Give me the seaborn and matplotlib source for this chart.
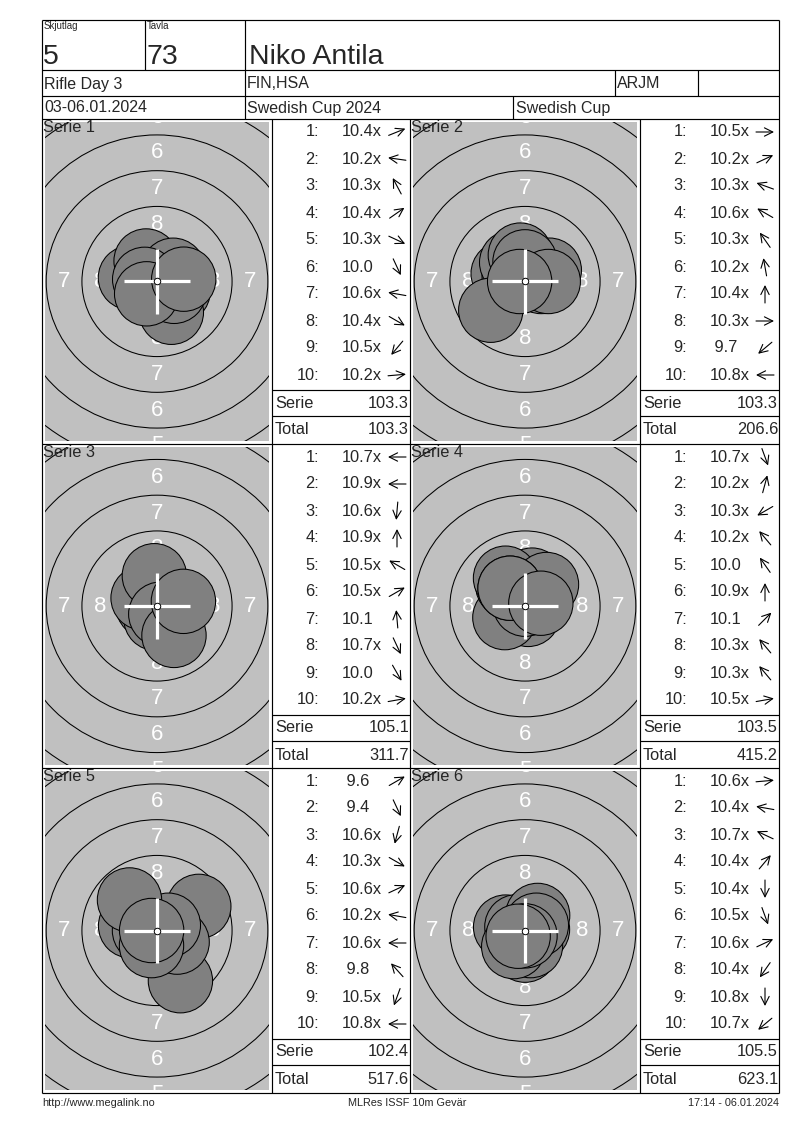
import numpy as np
import pandas as pd
import matplotlib
matplotlib.use("Agg")
import matplotlib.pyplot as plt
from matplotlib.patches import Circle
import seaborn as sns

# ------------------------------------------------------------------ data
relay = "5"
lane = "73"
shooter = "Niko Antila"
event = "Rifle Day 3"
club = "FIN,HSA"
klass = "ARJM"
dates = "03-06.01.2024"
competition = "Swedish Cup 2024"
cup = "Swedish Cup"
footer_left = "http://www.megalink.no"
footer_mid = "MLRes ISSF 10m Gevär"
footer_right = "17:14 - 06.01.2024"

series_names = ["Serie 1", "Serie 2", "Serie 3", "Serie 4", "Serie 5", "Serie 6"]

s1_scores = [10.4, 10.2, 10.3, 10.4, 10.3, 10.0, 10.6, 10.4, 10.5, 10.2]
s2_scores = [10.5, 10.2, 10.3, 10.6, 10.3, 10.2, 10.4, 10.3, 9.7, 10.8]
s3_scores = [10.7, 10.9, 10.6, 10.9, 10.5, 10.5, 10.1, 10.7, 10.0, 10.2]
s4_scores = [10.7, 10.2, 10.3, 10.2, 10.0, 10.9, 10.1, 10.3, 10.3, 10.5]
s5_scores = [9.6, 9.4, 10.6, 10.3, 10.6, 10.2, 10.6, 9.8, 10.5, 10.8]
s6_scores = [10.6, 10.4, 10.7, 10.4, 10.4, 10.5, 10.6, 10.4, 10.8, 10.7]

s1_inner = [1, 1, 1, 1, 1, 0, 1, 1, 1, 1]
s2_inner = [1, 1, 1, 1, 1, 1, 1, 1, 0, 1]
s3_inner = [1, 1, 1, 1, 1, 1, 0, 1, 0, 1]
s4_inner = [1, 1, 1, 1, 0, 1, 0, 1, 1, 1]
s5_inner = [0, 0, 1, 1, 1, 1, 1, 0, 1, 1]
s6_inner = [1, 1, 1, 1, 1, 1, 1, 1, 1, 1]

# direction of each shot from the centre (degrees, 0 = right, 90 = up)
s1_dirs = [22, 172, 118, 35, -25, -65, 170, -30, -130, 5]
s2_dirs = [0, 25, 160, 150, 125, 100, 90, 0, -140, 180]
s3_dirs = [180, 180, -95, 90, 150, 30, 95, -65, -60, 10]
s4_dirs = [-70, 75, -150, 130, 125, 90, 45, 130, 130, 10]
s5_dirs = [30, -65, -105, -30, 25, 170, 180, 132, -110, 180]
s6_dirs = [5, 170, 155, 50, -90, -70, 25, -125, -90, -140]

serie_sums = [103.3, 103.3, 105.1, 103.5, 102.4, 105.5]
running_totals = [103.3, 206.6, 311.7, 415.2, 517.6, 623.1]

ring_values = [8, 7, 6, 5, 4]

all_scores = [s1_scores, s2_scores, s3_scores, s4_scores, s5_scores, s6_scores]
all_inner = [s1_inner, s2_inner, s3_inner, s4_inner, s5_inner, s6_inner]
all_dirs = [s1_dirs, s2_dirs, s3_dirs, s4_dirs, s5_dirs, s6_dirs]

# ------------------------------------------------------------------ style
sns.set_theme(style="white")
plt.rcParams["font.family"] = ["Liberation Sans", "DejaVu Sans"]

W, H = 800, 1130
fig = plt.figure(figsize=(W / 100, H / 100), dpi=100)
fig.patch.set_facecolor("white")

page = fig.add_axes([0, 0, 1, 1], zorder=5)
page.set_xlim(0, W)
page.set_ylim(H, 0)
page.axis("off")
page.patch.set_alpha(0)

LW = 0.85
L, R, T, B = 42, 779, 20, 1093
row_tops = [119, 444, 768]
col_target = [(42, 272), (410, 640)]
col_table = [(272, 410), (640, 779)]

FS_TAB = 11.8
FS_HEAD = 11.5
FS_BIG = 20.5
FS_SMALL = 7.8


def hline(y, x0, x1):
    page.plot([x0, x1], [y, y], color="black", lw=LW, solid_capstyle="butt")


def vline(x, y0, y1):
    page.plot([x, x], [y0, y1], color="black", lw=LW, solid_capstyle="butt")


# page frame and header grid
for y in [T, 70, 96, 119, 444, 768, B]:
    hline(y, L, R)
vline(L, T, B)
vline(R, T, B)
vline(145, T, 70)
vline(245, T, 119)
vline(615, 70, 96)
vline(698, 70, 96)
vline(513, 96, 119)
for x in [272, 410, 640]:
    vline(x, 119, B)

# header text
page.text(44, 21, "Skjutlag", fontsize=FS_SMALL * 0.9, va="top", ha="left")
page.text(147, 21, "Tavla", fontsize=FS_SMALL * 0.9, va="top", ha="left")
page.text(43, 64, relay, fontsize=FS_BIG, va="baseline", ha="left")
page.text(146, 64, lane, fontsize=FS_BIG, va="baseline", ha="left")
page.text(249, 64, shooter, fontsize=FS_BIG, va="baseline", ha="left")
page.text(44, 84, event, fontsize=FS_HEAD, va="center", ha="left")
page.text(247, 84, club, fontsize=FS_HEAD, va="center", ha="left")
page.text(617, 84, klass, fontsize=FS_HEAD, va="center", ha="left")
page.text(44, 108, dates, fontsize=FS_HEAD, va="center", ha="left")
page.text(247, 108, competition, fontsize=FS_HEAD, va="center", ha="left")
page.text(516, 108, cup, fontsize=FS_HEAD, va="center", ha="left")

# footer
page.text(42, 1103, footer_left, fontsize=FS_SMALL, va="center", ha="left")
page.text(407, 1103, footer_mid, fontsize=FS_SMALL, va="center", ha="center")
page.text(779, 1103, footer_right, fontsize=FS_SMALL, va="center", ha="right")

PX_PER_MM = 14.3
PELLET_R = 2.25


def ring_outer(k):
    return 0.25 + (10 - k) * 2.5


for i in range(6):
    r, c = divmod(i, 2)
    top = row_tops[r]
    bottom = row_tops[r + 1] if r < 2 else B
    tx0, tx1 = col_target[c]
    gx0, gx1 = tx0 + 3, tx1 - 3
    gy0, gy1 = top + 3, bottom - 3
    gw, gh = gx1 - gx0, gy1 - gy0

    ax = fig.add_axes([gx0 / W, 1 - gy1 / H, gw / W, gh / H], zorder=1)
    ax.set_facecolor("#C0C0C0")
    hx = gw / 2 / PX_PER_MM
    hy = gh / 2 / PX_PER_MM
    ax.set_xlim(-hx, hx)
    ax.set_ylim(-hy, hy)
    ax.set_aspect("equal", adjustable="box")
    for s in ax.spines.values():
        s.set_visible(False)
    ax.set_xticks([])
    ax.set_yticks([])

    for k in ring_values:
        ax.add_patch(Circle((0, 0), ring_outer(k), fill=False, ec="black",
                            lw=0.75, zorder=2))
        lr = ring_outer(k) - 1.25
        spots = []
        if lr < hy + 0.6:
            spots += [(0, lr), (0, -lr)]
        if lr < hx + 0.3:
            spots += [(lr, 0), (-lr, 0)]
        for (px, py) in spots:
            ax.text(px, py, str(k), color="white", fontsize=16,
                    ha="center", va="center", zorder=3, clip_on=True)

    df = pd.DataFrame({"score": all_scores[i], "dir": all_dirs[i]})
    # decimal band -> distance of the shot centre from the target centre (mm)
    df["dist"] = (10.9 - df["score"]) * 2.5 + 0.125
    df["x"] = df["dist"] * np.cos(np.radians(df["dir"]))
    df["y"] = df["dist"] * np.sin(np.radians(df["dir"]))
    for _, row in df.iterrows():
        ax.add_patch(Circle((row["x"], row["y"]), PELLET_R, fc="#808080",
                            ec="black", lw=0.75, zorder=4))

    cl = 2.3
    ax.plot([-cl, cl], [0, 0], color="white", lw=2.3, zorder=5,
            solid_capstyle="butt")
    ax.plot([0, 0], [-cl, cl], color="white", lw=2.3, zorder=5,
            solid_capstyle="butt")
    sns.scatterplot(x=[0.0], y=[0.0], ax=ax, s=22, color="white",
                    edgecolor="black", linewidth=0.7, zorder=6, legend=False)
    ax.set_xlabel("")
    ax.set_ylabel("")

    page.text(tx0 + 1, top + 1, series_names[i], fontsize=FS_TAB, va="top",
              ha="left")

    # table
    bx0, bx1 = col_table[c]
    for j, (sc, inn, d) in enumerate(zip(all_scores[i], all_inner[i],
                                         all_dirs[i])):
        y = top + 13 + 27 * j
        page.text(bx0 + 47, y, f"{j + 1}:", fontsize=FS_TAB, ha="right",
                  va="center")
        page.text(bx0 + 70, y, f"{sc:4.1f}" + ("x" if inn else ""),
                  fontsize=FS_TAB, ha="left", va="center")
        cx, cy = bx0 + 125, y
        dx = 9 * np.cos(np.radians(d))
        dy = -9 * np.sin(np.radians(d))
        page.annotate("", xy=(cx + dx, cy + dy), xytext=(cx - dx, cy - dy),
                      arrowprops=dict(arrowstyle="->,head_length=0.5,head_width=0.25",
                                      lw=0.8, color="black",
                                      shrinkA=0, shrinkB=0))
    hline(top + 271, bx0, bx1)
    hline(top + 297, bx0, bx1)
    page.text(bx0 + 3, top + 284, "Serie", fontsize=FS_TAB, ha="left",
              va="center")
    page.text(bx1 - 1, top + 284, f"{serie_sums[i]:.1f}", fontsize=FS_TAB,
              ha="right", va="center")
    page.text(bx0 + 3, top + 311, "Total", fontsize=FS_TAB, ha="left",
              va="center")
    page.text(bx1 - 1, top + 311, f"{running_totals[i]:.1f}", fontsize=FS_TAB,
              ha="right", va="center")

fig.savefig("out.png", dpi=100, facecolor="white")
